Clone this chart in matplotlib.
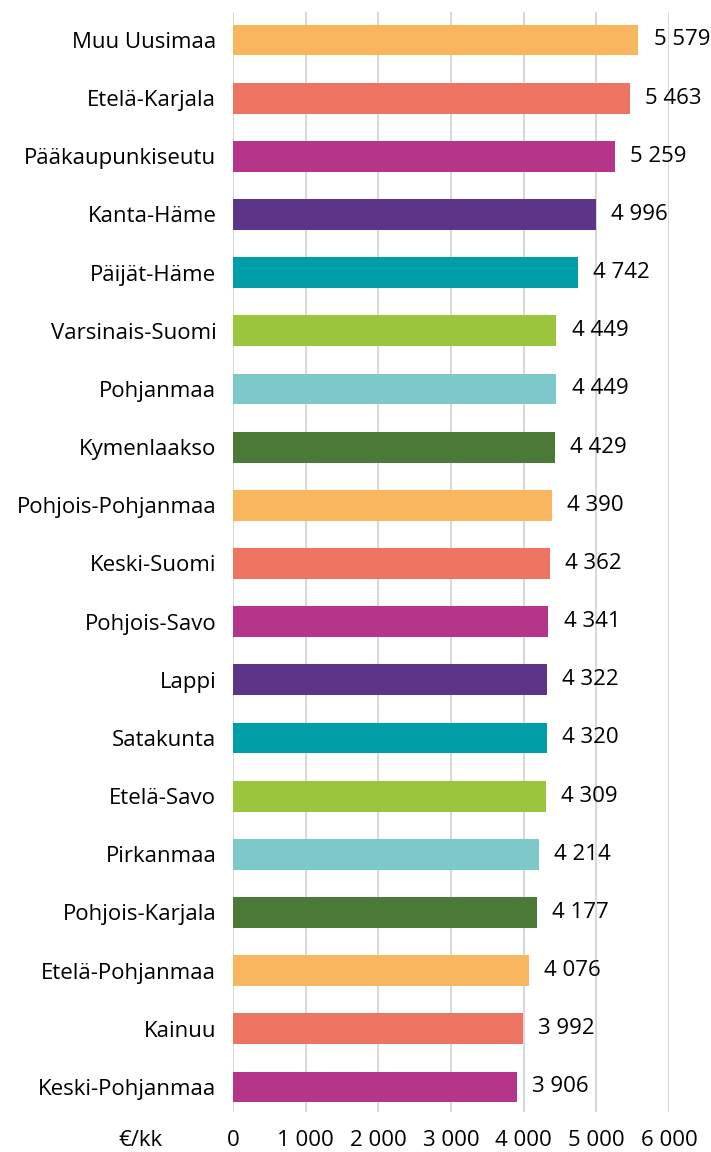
import matplotlib
matplotlib.use("Agg")
import matplotlib.pyplot as plt

regions = ["Muu Uusimaa", "Etelä-Karjala", "Pääkaupunkiseutu", "Kanta-Häme",
           "Päijät-Häme", "Varsinais-Suomi", "Pohjanmaa", "Kymenlaakso",
           "Pohjois-Pohjanmaa", "Keski-Suomi", "Pohjois-Savo", "Lappi",
           "Satakunta", "Etelä-Savo", "Pirkanmaa", "Pohjois-Karjala",
           "Etelä-Pohjanmaa", "Kainuu", "Keski-Pohjanmaa"]
values = [5579, 5463, 5259, 4996, 4742, 4449, 4449, 4429, 4390, 4362,
          4341, 4322, 4320, 4309, 4214, 4177, 4076, 3992, 3906]
ticks = [0, 1000, 2000, 3000, 4000, 5000, 6000]
unit = "€/kk"

palette = ["#F8B75F", "#EE7462", "#B5358A", "#5C3589",
           "#009EA9", "#9BC53C", "#7DC8C9", "#4B7A36"]

plt.rcParams['font.family'] = ['Open Sans', 'DejaVu Sans']
FS = 16


def fmt(v):
    return f"{v:,}".replace(",", " ")


fig = plt.figure(figsize=(7.11, 11.52), dpi=100)
ax = fig.add_axes([233 / 711, 1 - 1112 / 1152, 436 / 711, 1100 / 1152])

ypos = list(range(len(regions)))
colors = [palette[i % len(palette)] for i in ypos]
ax.barh(ypos, values, height=0.53, color=colors, zorder=2)

for y, v in zip(ypos, values):
    ax.annotate(fmt(v), (v, y), xytext=(11, 0), textcoords="offset points",
                va="center", ha="left", fontsize=FS, color="black",
                annotation_clip=False)

ax.set_xlim(0, 6000)
ax.set_ylim(len(regions) - 1 + 0.43, -0.48)
ax.set_xticks(ticks)
ax.set_xticklabels([fmt(t) for t in ticks], fontsize=FS)
ax.set_yticks(ypos)
ax.set_yticklabels(regions, fontsize=FS)
ax.tick_params(length=0, pad=12)
ax.tick_params(axis="x", pad=13)
ax.grid(axis="x", color="#d9d9d9", linewidth=1.5, zorder=0)
ax.set_axisbelow(True)
for s in ax.spines.values():
    s.set_visible(False)

fig.text(140 / 711, 1 - 1140 / 1152, unit, ha="center", va="center", fontsize=FS)

fig.savefig("out.png", dpi=100)
